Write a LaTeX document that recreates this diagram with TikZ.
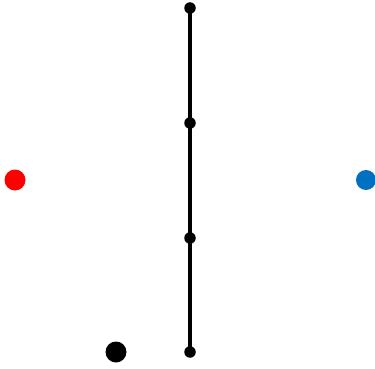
\documentclass[tikz,border=0pt]{standalone}
\usepackage{tikz}
\usetikzlibrary{positioning}
\definecolor{dotblue}{RGB}{0,112,192}
\tikzset{
  vert/.style={circle, fill=black, inner sep=0pt, minimum size=11.5pt},
  bigdot/.style={circle, inner sep=0pt, minimum size=21pt}
}
\begin{document}
\begin{tikzpicture}[x=1pt, y=-1pt]
    \useasboundingbox (0,0) rectangle (375,369);
    % 竖直链
    \node[vert] (v1) at (190,8) {};
    \node[vert] (v2) at (190,123) {};
    \node[vert] (v3) at (190,238) {};
    \node[vert] (v4) at (190,352) {};
    \draw[line width=4pt] (v1.center) -- (v2.center) -- (v3.center) -- (v4.center);

    % 三个大点
    \node[bigdot, fill=red] (red) at (15,180) {};
    \node[bigdot, fill=dotblue, minimum size=20pt] (blue) at (366,180) {};
    \node[bigdot, fill=black] (blk) at (116,352) {};
\end{tikzpicture}
\end{document}
